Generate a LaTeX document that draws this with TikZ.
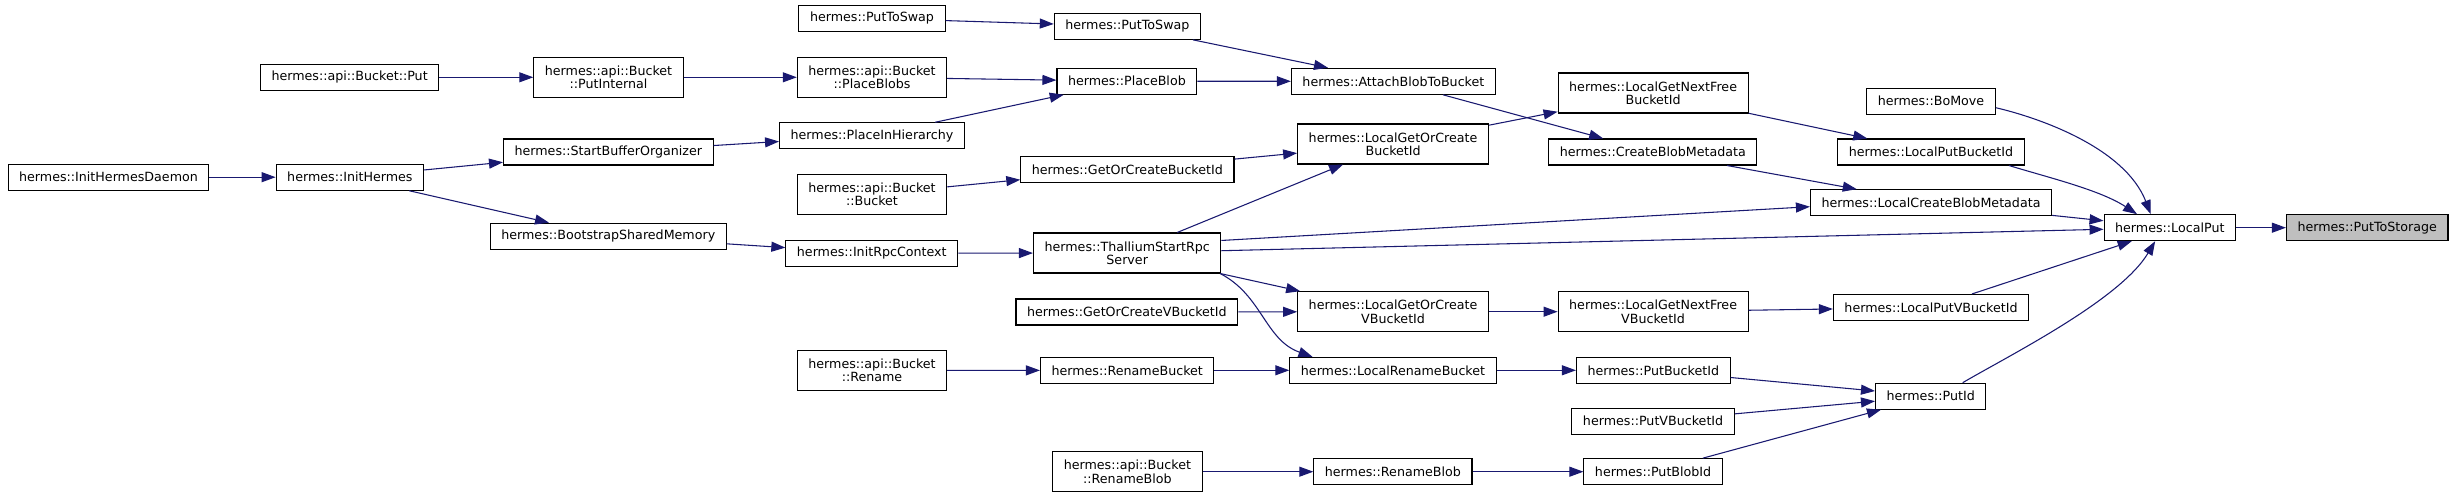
\documentclass[tikz,border=0pt]{standalone}
\usepackage{fontspec}
\setmainfont{DejaVu Sans}
\usepackage{tikz}
\usetikzlibrary{arrows.meta}
\definecolor{edgeblue}{RGB}{25,25,112}
\definecolor{curgray}{RGB}{191,191,191}
\tikzset{
  fn/.style={draw, line width=0.8pt, rectangle, minimum height=19.5pt,
    inner xsep=8.3pt, inner ysep=0pt, align=center,
    font=\fontsize{9.5}{10}\selectfont},
  fnn/.style={fn, minimum height=30pt},
  cur/.style={fn, fill=curgray},
  call/.style={draw=edgeblue, line width=0.8pt,
    -{Triangle[length=10.5pt,width=7.5pt]}}
}
\begin{document}
\begin{tikzpicture}[x=0.75pt,y=-0.75pt]
\useasboundingbox (0,0) rectangle (2455,498);
% startup chain
\node[fn] (initdaemon) at (108.5,177.2) {hermes::InitHermesDaemon};
\node[fn] (inithermes) at (349.9,177.2) {hermes::InitHermes};
\node[fn] (bucketput) at (349.6,77.3) {hermes::api::Bucket::Put};
\node[fnn] (putinternal) at (608.5,77.3) {hermes::api::Bucket\\::PutInternal};
\node[fn] (startbuf) at (608.3,152) {hermes::StartBufferOrganizer};
\node[fn] (bootstrap) at (608.3,236.2) {hermes::BootstrapSharedMemory};
% api column
\node[fn] (swapa) at (872,18.3) {hermes::PutToSwap};
\node[fnn] (placeblobs) at (872,77.3) {hermes::api::Bucket\\::PlaceBlobs};
\node[fn] (placeinh) at (872,135.8) {hermes::PlaceInHierarchy};
\node[fnn] (apibucket) at (872,194.2) {hermes::api::Bucket\\::Bucket};
\node[fn] (initrpc) at (871.8,253.2) {hermes::InitRpcContext};
\node[fnn] (apirename) at (872,370.5) {hermes::api::Bucket\\::Rename};
% second column
\node[fn] (swapb) at (1127.4,26.3) {hermes::PutToSwap};
\node[fn] (placeblob) at (1126.9,81.2) {hermes::PlaceBlob};
\node[fn] (gocbucket) at (1127.4,169.3) {hermes::GetOrCreateBucketId};
\node[fnn] (thallium) at (1127.2,253) {hermes::ThalliumStartRpc\\Server};
\node[fn] (gocvbucket) at (1126.9,312) {hermes::GetOrCreateVBucketId};
\node[fn] (renamebucket) at (1127.2,370.3) {hermes::RenameBucket};
\node[fnn] (apirenameblob) at (1127.4,471.7) {hermes::api::Bucket\\::RenameBlob};
% local metadata calls
\node[fn] (attach) at (1393.4,81.3) {hermes::AttachBlobToBucket};
\node[fnn] (lgocbucket) at (1393.1,144) {hermes::LocalGetOrCreate\\BucketId};
\node[fnn] (lgocvbucket) at (1393.1,311.7) {hermes::LocalGetOrCreate\\VBucketId};
\node[fn] (lrenamebucket) at (1393,370.3) {hermes::LocalRenameBucket};
\node[fn] (renameblob) at (1392.9,471.7) {hermes::RenameBlob};
\node[fnn] (lgnfbucket) at (1653.1,93) {hermes::LocalGetNextFree\\BucketId};
\node[fn] (createblobmd) at (1652.8,152) {hermes::CreateBlobMetadata};
\node[fnn] (lgnfvbucket) at (1653.1,311.7) {hermes::LocalGetNextFree\\VBucketId};
\node[fn] (putbucketid) at (1653.3,370.3) {hermes::PutBucketId};
\node[fn] (putvbucketid) at (1653.1,421.2) {hermes::PutVBucketId};
\node[fn] (putblobid) at (1653.1,471.7) {hermes::PutBlobId};
\node[fn] (bomove) at (1931,101.2) {hermes::BoMove};
\node[fn] (lputbucket) at (1931,152) {hermes::LocalPutBucketId};
\node[fn] (lcbmd) at (1931,202.7) {hermes::LocalCreateBlobMetadata};
\node[fn] (lputvbucket) at (1931,307.5) {hermes::LocalPutVBucketId};
\node[fn] (putid) at (1930.7,396.2) {hermes::PutId};
% target
\node[fn] (localput) at (2169.8,227.7) {hermes::LocalPut};
\node[cur] (puttostorage) at (2367.2,227.7) {hermes::PutToStorage};
% calls
\draw[call] (initdaemon) -- (inithermes);
\draw[call] (inithermes) -- (startbuf);
\draw[call] (inithermes) -- (bootstrap);
\draw[call] (bucketput) -- (putinternal);
\draw[call] (putinternal) -- (placeblobs);
\draw[call] (startbuf) -- (placeinh);
\draw[call] (bootstrap) -- (initrpc);
\draw[call] (swapa) -- (swapb);
\draw[call] (placeblobs) -- (placeblob);
\draw[call] (placeinh) -- (placeblob);
\draw[call] (apibucket) -- (gocbucket);
\draw[call] (initrpc) -- (thallium);
\draw[call] (apirename) -- (renamebucket);
\draw[call] (swapb) -- (attach);
\draw[call] (placeblob) -- (attach);
\draw[call] (gocbucket) -- (lgocbucket);
\draw[call] (thallium) -- (lgocbucket);
\draw[call] ([yshift=-6pt]thallium.north east) -- ([yshift=-3pt]lcbmd.west);
\draw[call] (thallium) -- (localput);
\draw[call] (thallium) -- (lgocvbucket);
\draw[call] ([xshift=-1pt]thallium.south east) .. controls (1262,295) and (1265,340) .. ([xshift=-60.4pt]lrenamebucket.north);
\draw[call] (gocvbucket) -- (lgocvbucket);
\draw[call] (renamebucket) -- (lrenamebucket);
\draw[call] (apirenameblob) -- (renameblob);
\draw[call] (attach) -- (createblobmd);
\draw[call] (lgocbucket) -- (lgnfbucket);
\draw[call] (lgocvbucket) -- (lgnfvbucket);
\draw[call] (lrenamebucket) -- (putbucketid);
\draw[call] (renameblob) -- (putblobid);
\draw[call] (lgnfbucket) -- (lputbucket);
\draw[call] (createblobmd) -- (lcbmd);
\draw[call] (lgnfvbucket) -- (lputvbucket);
\draw[call] (putbucketid) -- (putid);
\draw[call] (putvbucketid) -- (putid);
\draw[call] (putblobid) -- (putid);
% into LocalPut
\draw[call] ([yshift=-4.9pt]bomove.east) .. controls (2040,118) and (2125,148) .. ([xshift=-14.3pt]localput.north);
\draw[call] ([xshift=58.5pt]lputbucket.south) .. controls (2050,178) and (2100,190) .. ([xshift=-24.6pt]localput.north);
\draw[call] (lcbmd) -- (localput);
\draw[call] (lputvbucket) -- ([xshift=-28.6pt]localput.south);
\draw[call] ([xshift=24pt]putid.north) .. controls (2010,355) and (2120,300) .. ([xshift=-11pt]localput.south);
\draw[call] (localput) -- (puttostorage);
\end{tikzpicture}
\end{document}
